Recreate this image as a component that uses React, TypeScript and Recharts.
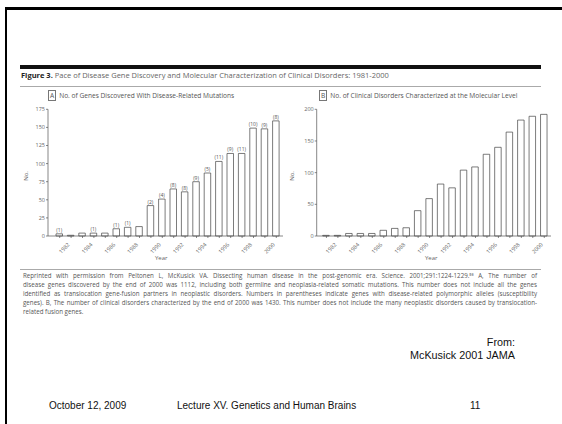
import React from 'react';
import { BarChart, Bar, XAxis, YAxis, LabelList } from 'recharts';

const years = ['1981','1982','1983','1984','1985','1986','1987','1988','1989','1990','1991','1992','1993','1994','1995','1996','1997','1998','1999','2000'];
const genesDiscovered = [3, 1, 4, 4, 4, 10, 12, 13, 42, 51, 65, 61, 75, 87, 103, 114, 114, 149, 148, 159];
const genesParen = ['(1)', '', '', '(1)', '', '(1)', '(1)', '', '(2)', '(4)', '(8)', '(8)', '(9)', '(5)', '(11)', '(9)', '(11)', '(10)', '(9)', '(8)'];
const disordersCharacterized = [1, 1, 4, 4, 4, 9, 12, 13, 40, 59, 82, 76, 104, 109, 129, 140, 164, 183, 189, 192];
const genesTicks = [0, 25, 50, 75, 100, 125, 150, 175];
const disorderTicks = [0, 50, 100, 150, 200];
const labelledYears = ['1982','1984','1986','1988','1990','1992','1994','1996','1998','2000'];

const captionLines = [
  'Reprinted with permission from Peltonen L, McKusick VA. Dissecting human disease in the post-genomic era. Science. 2001;291:1224-1229.\u2075\u2078 A, The number of',
  'disease genes discovered by the end of 2000 was 1112, including both germline and neoplasia-related somatic mutations. This number does not include all the genes',
  'identified as translocation gene-fusion partners in neoplastic disorders. Numbers in parentheses indicate genes with disease-related polymorphic alleles (susceptibility',
  'genes). B, The number of clinical disorders characterized by the end of 2000 was 1430. This number does not include the many neoplastic disorders caused by translocation-',
  'related fusion genes.',
];

const genesData = years.map((y, i) => ({ year: y, value: genesDiscovered[i], paren: genesParen[i] }));
const disordersData = years.map((y, i) => ({ year: y, value: disordersCharacterized[i] }));

const FIG_FONT = '"Open Sans", "Liberation Sans", sans-serif';
const SLIDE_FONT = '"Liberation Sans", Arial, sans-serif';
const AX = '#555';

const YearTick = (props: any) => {
  const { x, y, payload } = props;
  if (!labelledYears.includes(String(payload.value))) return <g />;
  const ax = x - 1;
  const ay = y + 5;
  return (
    <text x={ax} y={ay} textAnchor="end" fontSize={5.5} fill="#666" fontFamily={FIG_FONT}
      transform={`rotate(-45, ${ax}, ${ay})`}>{payload.value}</text>
  );
};

const tickStyle = { fontSize: 5.5, fill: '#666', fontFamily: FIG_FONT };

const PanelTitle = ({ letter, text, left }: { letter: string; text: string; left: number }) => (
  <div style={{ position: 'absolute', left, top: 92, fontFamily: FIG_FONT, fontSize: 6.6, color: '#555', whiteSpace: 'nowrap', lineHeight: '8px' }}>
    <span style={{ border: '0.6px solid #777', padding: '0 1px', marginRight: 3 }}>{letter}</span>
    {text}
  </div>
);

export default function App() {
  return (
    <div style={{ position: 'absolute', left: 0, top: 0, width: 562, height: 424, background: '#fff', overflow: 'hidden' }}>
      {/* slide frame */}
      <div style={{ position: 'absolute', left: 5, top: 7, width: 2, height: 417, background: '#000' }} />
      <div style={{ position: 'absolute', left: 5, top: 7, width: 557, height: 2.5, background: '#000' }} />

      {/* figure header */}
      <div style={{ position: 'absolute', left: 20, top: 65, width: 521, height: 4, background: '#111' }} />
      <div style={{ position: 'absolute', left: 21, top: 70, fontFamily: FIG_FONT, fontSize: 7.5, color: '#666', whiteSpace: 'nowrap', lineHeight: '10px' }}>
        <span style={{ fontWeight: 700, color: '#222' }}>Figure 3.</span> Pace of Disease Gene Discovery and Molecular Characterization of Clinical Disorders: 1981-2000
      </div>
      <div style={{ position: 'absolute', left: 20, top: 86, width: 521, height: 0.8, background: '#aaa' }} />

      <PanelTitle letter="A" text="No. of Genes Discovered With Disease-Related Mutations" left={48} />
      <PanelTitle letter="B" text="No. of Clinical Disorders Characterized at the Molecular Level" left={319} />

      {/* Chart A */}
      <div style={{ position: 'absolute', left: 0, top: 100 }}>
        <BarChart width={290} height={170} data={genesData} margin={{ top: 9.3, right: 7, bottom: 0, left: 0 }} barSize={6.5}>
          <XAxis dataKey="year" interval={0} tick={<YearTick />} tickSize={2} stroke={AX} strokeWidth={0.7} height={34} padding={{ left: 6, right: 1 }} />
          <YAxis domain={[0, 175]} ticks={genesTicks} tick={tickStyle} tickSize={2} tickMargin={1} stroke={AX} strokeWidth={0.7} width={48} allowDecimals={false} />
          <Bar dataKey="value" fill="#fff" stroke="#444" strokeWidth={0.7} isAnimationActive={false}>
            <LabelList dataKey="paren" position="top" offset={2} style={{ fontSize: 5, fill: '#555', fontFamily: FIG_FONT }} />
          </Bar>
        </BarChart>
      </div>
      <div style={{ position: 'absolute', left: 155, top: 254, fontFamily: FIG_FONT, fontSize: 6, color: '#666' }}>Year</div>
      <div style={{ position: 'absolute', left: 21, top: 172, fontFamily: FIG_FONT, fontSize: 6, color: '#666', transform: 'rotate(-90deg)' }}>No.</div>

      {/* Chart B */}
      <div style={{ position: 'absolute', left: 280, top: 100 }}>
        <BarChart width={282} height={170} data={disordersData} margin={{ top: 9.3, right: 11, bottom: 0, left: 0 }} barSize={6.5}>
          <XAxis dataKey="year" interval={0} tick={<YearTick />} tickSize={2} stroke={AX} strokeWidth={0.7} height={34} padding={{ left: 4, right: 1 }} />
          <YAxis domain={[0, 200]} ticks={disorderTicks} tick={tickStyle} tickSize={2} tickMargin={1} stroke={AX} strokeWidth={0.7} width={36.7} />
          <Bar dataKey="value" fill="#fff" stroke="#444" strokeWidth={0.7} isAnimationActive={false} />
        </BarChart>
      </div>
      <div style={{ position: 'absolute', left: 425, top: 254, fontFamily: FIG_FONT, fontSize: 6, color: '#666' }}>Year</div>
      <div style={{ position: 'absolute', left: 287, top: 172, fontFamily: FIG_FONT, fontSize: 6, color: '#666', transform: 'rotate(-90deg)' }}>No.</div>

      {/* caption */}
      <div style={{ position: 'absolute', left: 20, top: 268.5, width: 521, height: 0.8, background: '#aaa' }} />
      {captionLines.map((line, i) => (
        <div key={i} style={{
          position: 'absolute', left: 23, top: 271.5 + i * 9, width: 514, fontFamily: FIG_FONT, fontSize: 6.2,
          color: '#555', lineHeight: '8px', whiteSpace: 'nowrap',
          textAlign: i < captionLines.length - 1 ? 'justify' : 'left',
          textAlignLast: i < captionLines.length - 1 ? 'justify' : 'left',
        } as React.CSSProperties}>{line}</div>
      ))}

      {/* slide texts */}
      <div style={{ position: 'absolute', right: 47, top: 336, fontFamily: SLIDE_FONT, fontSize: 10.8, color: '#111', textAlign: 'right', lineHeight: '12.5px' }}>
        From:<br />McKusick 2001 JAMA
      </div>
      <div style={{ position: 'absolute', left: 49, top: 400, fontFamily: SLIDE_FONT, fontSize: 10, color: '#111' }}>October 12, 2009</div>
      <div style={{ position: 'absolute', left: 177, top: 400, fontFamily: SLIDE_FONT, fontSize: 10, color: '#111' }}>Lecture XV. Genetics and Human Brains</div>
      <div style={{ position: 'absolute', left: 470, top: 400, fontFamily: SLIDE_FONT, fontSize: 10, color: '#111' }}>11</div>
    </div>
  );
}
